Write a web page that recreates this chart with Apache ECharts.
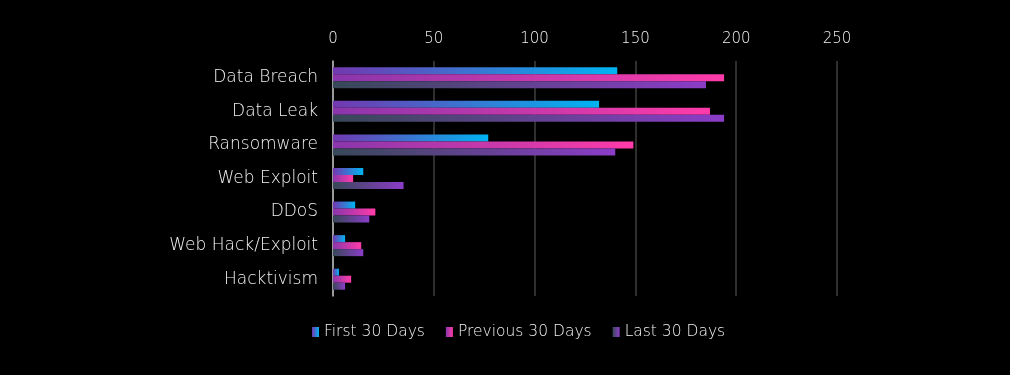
<!DOCTYPE html>
<html>
<head>
<meta charset="utf-8">
<script src="https://cdn.jsdelivr.net/npm/echarts@6/dist/echarts.min.js"></script>
<style>
  html, body { margin: 0; padding: 0; background: #000; }
  #main { width: 1010px; height: 375px; }
</style>
</head>
<body>
<div id="main"></div>
<script>
var categories = ['Data Breach', 'Data Leak', 'Ransomware', 'Web Exploit', 'DDoS', 'Web Hack/Exploit', 'Hacktivism'];
var seriesNames = ['First 30 Days', 'Previous 30 Days', 'Last 30 Days'];
var first30 = [141, 132, 77, 15, 11, 6, 3];
var previous30 = [194, 187, 149, 10, 21, 14, 9];
var last30 = [185, 194, 140, 35, 18, 15, 6];
var xTicks = [0, 50, 100, 150, 200, 250];

var fontFamily = 'DejaVu Sans';
var textColor = '#f2f2f2';
// 每个系列的渐变色 (左 -> 右)
var gradStops = [
    ['#7338b0', '#00b4f2'],
    ['#8a36ac', '#ff3ba9'],
    ['#374858', '#8c3cc8']
];

function grad(i) {
    return new echarts.graphic.LinearGradient(0, 0, 1, 0, [
        { offset: 0, color: gradStops[i][0] },
        { offset: 1, color: gradStops[i][1] }
    ]);
}

var myChart = echarts.init(document.getElementById('main'));
var values = [first30, previous30, last30];

myChart.setOption({
    backgroundColor: '#000',
    animation: false,
    textStyle: { fontFamily: fontFamily, fontWeight: 200 },
    grid: { left: 333, right: 173, top: 61, bottom: 79 },
    legend: {
        top: 319,
        left: 307,
        itemWidth: 7,
        itemHeight: 10,
        itemGap: 21,
        icon: 'rect',
        textStyle: { color: textColor, fontSize: 15.5, fontWeight: 200, fontFamily: fontFamily },
        data: seriesNames
    },
    xAxis: {
        type: 'value',
        position: 'top',
        min: xTicks[0],
        max: xTicks[xTicks.length - 1],
        interval: 50,
        axisLine: { show: false },
        axisTick: { show: false },
        axisLabel: { color: textColor, fontSize: 15, fontWeight: 200, margin: 14 },
        splitLine: { lineStyle: { color: '#3f3f3f', width: 1.5 } }
    },
    yAxis: {
        type: 'category',
        inverse: true,
        data: categories,
        axisLine: { lineStyle: { color: '#bfbfbf', width: 1.5 } },
        axisTick: { show: false },
        axisLabel: { color: textColor, fontSize: 17, fontWeight: 200, margin: 15 }
    },
    series: values.map(function (arr, i) {
        return {
            name: seriesNames[i],
            type: 'bar',
            barWidth: 7,
            barGap: '0%',
            data: arr,
            itemStyle: { color: grad(i) }
        };
    })
});

window.addEventListener('resize', function () {
    myChart.resize();
});
</script>
</body>
</html>
